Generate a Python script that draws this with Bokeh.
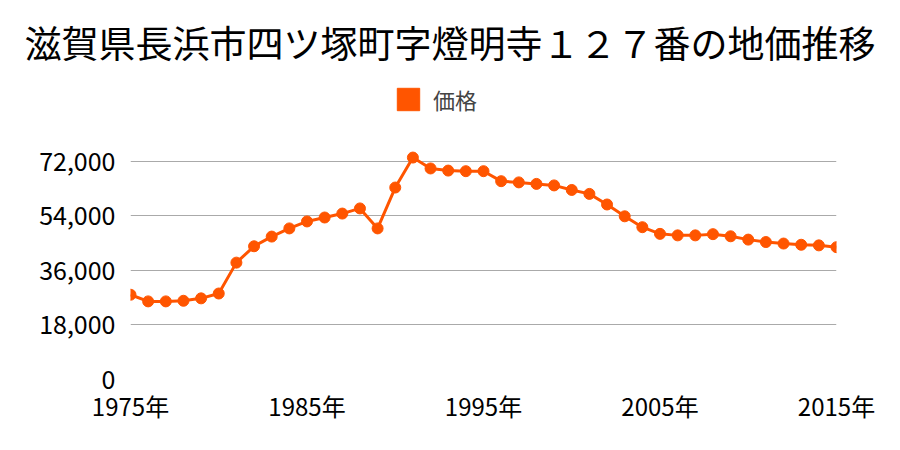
from bokeh.plotting import figure
from bokeh.models import FixedTicker, Legend, LegendItem, Range1d, NumeralTickFormatter
from bokeh.embed import file_html
from bokeh.resources import INLINE

years = list(range(1975, 2016))
prices = [28000, 25800, 25800, 26000, 26800, 28400, 38600, 44000, 47200, 49900,
          52200, 53500, 54800, 56500, 49900, 63400, 73300, 69700, 69000, 68800,
          68800, 65500, 65100, 64600, 64100, 62600, 61300, 57800, 53900, 50300,
          48100, 47600, 47600, 48000, 47300, 46200, 45400, 44900, 44500, 44300, 43700]
y_ticks = [0, 18000, 36000, 54000, 72000]
x_ticks = [1975, 1985, 1995, 2005, 2015]
x_labels = ["1975年", "1985年", "1995年", "2005年", "2015年"]
title_text = "滋賀県長浜市四ツ塚町字燈明寺１２７番の地価推移"
series_name = "価格"

FONT = "Noto Sans CJK JP"
COLOR = "#ff5500"

# frame spans 80..379 px vertically; 218 px per 72,000
p = figure(width=900, height=450, output_backend="svg", toolbar_location=None,
           x_range=Range1d(1975, 2015), y_range=Range1d(0, 98750),
           min_border_left=130, min_border_right=64, min_border_top=80, min_border_bottom=71,
           title=title_text)
p.title.text_font = FONT
p.title.text_font_size = "37px"
p.title.text_font_style = "normal"
p.title.align = "left"
p.title.offset = -106
p.title.text_color = "#000000"
p.title.standoff = 24

p.line(years, prices, line_color=COLOR, line_width=3)
p.scatter(years, prices, size=11, fill_color=COLOR, line_color=COLOR)
# legend swatch renderer placed outside the visible range
sw = p.quad(left=[1900], right=[1901], bottom=[0], top=[1], fill_color=COLOR, line_color=COLOR)

p.xaxis.ticker = FixedTicker(ticks=x_ticks)
p.xaxis.major_label_overrides = {t: l for t, l in zip(x_ticks, x_labels)}
p.yaxis.ticker = FixedTicker(ticks=y_ticks)
p.yaxis.formatter = NumeralTickFormatter(format="0,0")
for ax in (p.xaxis[0], p.yaxis[0]):
    ax.axis_line_color = None
    ax.major_tick_line_color = None
    ax.minor_tick_line_color = None
    ax.major_tick_out = 0
    ax.major_tick_in = 0
    ax.minor_tick_out = 0
    ax.major_label_text_font = FONT
    ax.major_label_text_color = "#000000"
p.yaxis.major_label_text_font_size = "25px"
p.xaxis.major_label_text_font_size = "24px"
p.yaxis.major_label_standoff = 15
p.xaxis.major_label_standoff = 8

p.xgrid.grid_line_color = None
p.ygrid.grid_line_color = "#aaaaaa"
p.ygrid.grid_line_width = 1
p.outline_line_color = None
p.background_fill_color = "white"
p.border_fill_color = "white"

legend = Legend(items=[LegendItem(label=series_name, renderers=[sw])],
                location=(264, 264), orientation="horizontal",
                label_text_font=FONT, label_text_font_size="22px",
                glyph_width=28, glyph_height=28, label_standoff=11,
                label_height=28,
                border_line_color=None, background_fill_alpha=0,
                margin=0, padding=0, spacing=0)
p.add_layout(legend)

open("out.html", "w").write(file_html(p, INLINE))
